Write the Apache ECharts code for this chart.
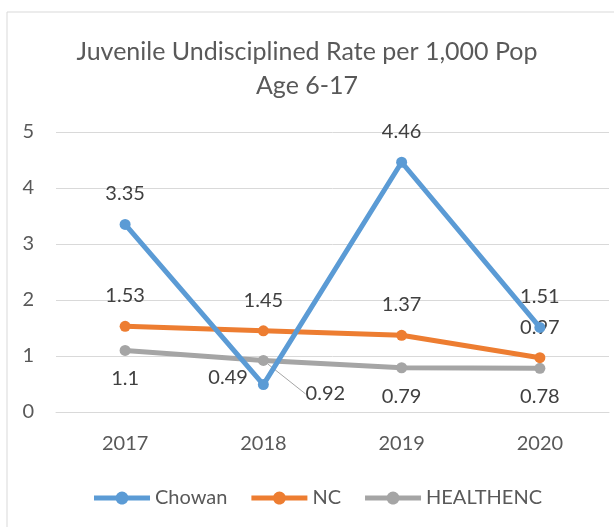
<!DOCTYPE html>
<html>
<head>
<meta charset="utf-8">
<script src="https://cdn.jsdelivr.net/npm/echarts@6/dist/echarts.min.js"></script>
<style>
  html, body { margin: 0; padding: 0; background: #fff; }
  #main { width: 614px; height: 527px; }
</style>
</head>
<body>
<div id="main"></div>
<script>
const years = ['2017', '2018', '2019', '2020']
const chowan = [3.35, 0.49, 4.46, 1.51]
const nc = [1.53, 1.45, 1.37, 0.97]
const healthenc = [1.1, 0.92, 0.79, 0.78]

const font = 'Lato'
// thick line with a dot in the middle, like the Excel legend key
const legendIcon = 'path://M0,4 L22,4 A6.5,6.5 0 0 1 34,4 L56,4 L56,9 L34,9 A6.5,6.5 0 0 1 22,9 L0,9 Z'

const chart = echarts.init(document.getElementById('main'))

chart.setOption({
  textStyle: { fontFamily: font },
  title: {
    text: 'Juvenile Undisciplined Rate per 1,000 Pop\nAge 6-17',
    left: 'center',
    top: 30,
    textStyle: { fontFamily: font, fontSize: 25, fontWeight: 'normal', color: '#595959', lineHeight: 34 }
  },
  // chart area border (right/bottom edges fall outside the picture)
  graphic: [{
    type: 'rect',
    shape: { x: 7, y: 12, width: 640, height: 560 },
    style: { fill: 'none', stroke: '#d9d9d9', lineWidth: 1 },
    silent: true
  }],
  legend: {
    left: 89,
    top: 483,
    icon: legendIcon,
    itemWidth: 56,
    itemHeight: 13,
    itemGap: 24,
    textStyle: { fontFamily: font, fontSize: 20, color: '#595959' },
    data: ['Chowan', 'NC', 'HEALTHENC']
  },
  grid: { left: 56, right: 5, top: 132, bottom: 115 },
  xAxis: {
    type: 'category',
    data: years,
    axisLine: { lineStyle: { color: '#d9d9d9' } },
    axisTick: { show: false },
    axisLabel: { margin: 22, fontSize: 20, color: '#595959', fontFamily: font }
  },
  yAxis: {
    type: 'value',
    min: 0,
    max: 5,
    interval: 1,
    axisLine: { show: false },
    axisTick: { show: false },
    splitLine: { lineStyle: { color: '#d9d9d9' } },
    axisLabel: { margin: 22, fontSize: 20, color: '#595959', fontFamily: font }
  },
  series: [
    {
      name: 'Chowan',
      type: 'line',
      data: chowan.map((v, i) => i === 1
        ? { value: v, label: { position: 'left', distance: 10, offset: [0, -7] } }
        : v),
      color: '#5B9BD5',
      symbol: 'circle',
      symbolSize: 11,
      lineStyle: { width: 5 },
      label: { show: true, position: 'top', distance: 15, fontSize: 20, color: '#404040' },
      z: 3
    },
    {
      name: 'NC',
      type: 'line',
      data: nc,
      color: '#ED7D31',
      symbol: 'circle',
      symbolSize: 11,
      lineStyle: { width: 5 },
      label: { show: true, position: 'top', distance: 15, fontSize: 20, color: '#404040' },
      z: 2
    },
    {
      name: 'HEALTHENC',
      type: 'line',
      data: healthenc.map((v, i) => i === 1
        ? { value: v, labelLine: { show: true, lineStyle: { color: '#A5A5A5', width: 1 } } }
        : v),
      color: '#A5A5A5',
      symbol: 'circle',
      symbolSize: 11,
      lineStyle: { width: 5 },
      label: { show: true, position: 'bottom', distance: 13, fontSize: 20, color: '#404040' },
      labelLine: { show: false },
      labelLayout: (p) => p.dataIndex === 1 ? { dx: 62, dy: 5 } : {},
      z: 1
    }
  ]
})
</script>
</body>
</html>
